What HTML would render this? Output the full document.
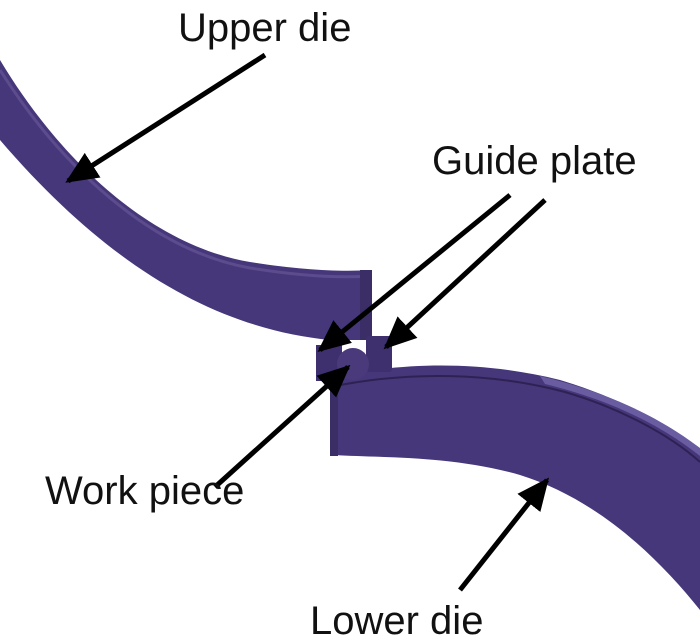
<!DOCTYPE html>
<html><head><style>
html,body{margin:0;padding:0;background:#fff;}
svg{display:block;}
text{font-family:"Liberation Sans",Arial,sans-serif;font-size:40px;fill:#111;}
</style></head><body>
<svg width="700" height="637" viewBox="0 0 700 637">
<defs>
<marker id="ah" viewBox="0 0 10 10" refX="9" refY="5" markerWidth="6.5" markerHeight="6.5" orient="auto" markerUnits="strokeWidth">
<path d="M0,0.5 L10,5 L0,9.5 Z" fill="#000"/>
</marker>
</defs>
<path d="M0,60 C60,160 150,245 250,262 C300,270 340,272 372,270 L372,340 L330,340 C230,330 120,280 0,140 Z" fill="#46377a"/>
<path d="M0,70 C60,165 150,250 250,268 C300,276 340,278 368,276" fill="none" stroke="#5c4c8e" stroke-width="3"/>
<rect x="360" y="270" width="12" height="70" fill="#3b2d66"/>
<path d="M330,378 C400,362 480,360 560,380 C620,398 670,425 700,450 L700,610 C660,560 600,500 520,475 C450,455 380,458 335,455 Z" fill="#46377a"/>
<path d="M340,385 C410,372 490,372 565,392 C620,408 670,435 700,462" fill="none" stroke="#2e2254" stroke-width="2"/>
<path d="M540,376 C620,395 670,425 700,448 L700,456 C670,432 620,402 545,384Z" fill="#6a5ca0"/>
<rect x="330" y="378" width="8" height="78" fill="#3b2d66"/>
<rect x="316" y="345" width="26" height="36" fill="#3e2f6e"/>
<rect x="366" y="336" width="26" height="36" rx="3" fill="#3e2f6e"/>
<circle cx="353" cy="364" r="16" fill="#4a3a7c"/>
<g stroke="#000" stroke-width="5" fill="none" marker-end="url(#ah)">
<line x1="265" y1="55" x2="68" y2="181"/>
<line x1="510" y1="195" x2="320" y2="350"/>
<line x1="545" y1="200" x2="386" y2="347"/>
<line x1="215" y1="487" x2="348" y2="367"/>
<line x1="460" y1="590" x2="547" y2="480"/>
</g>
<text x="178" y="41">Upper die</text>
<text x="432" y="174">Guide plate</text>
<text x="45" y="504">Work piece</text>
<text x="310" y="634">Lower die</text>
</svg>
</body></html>
